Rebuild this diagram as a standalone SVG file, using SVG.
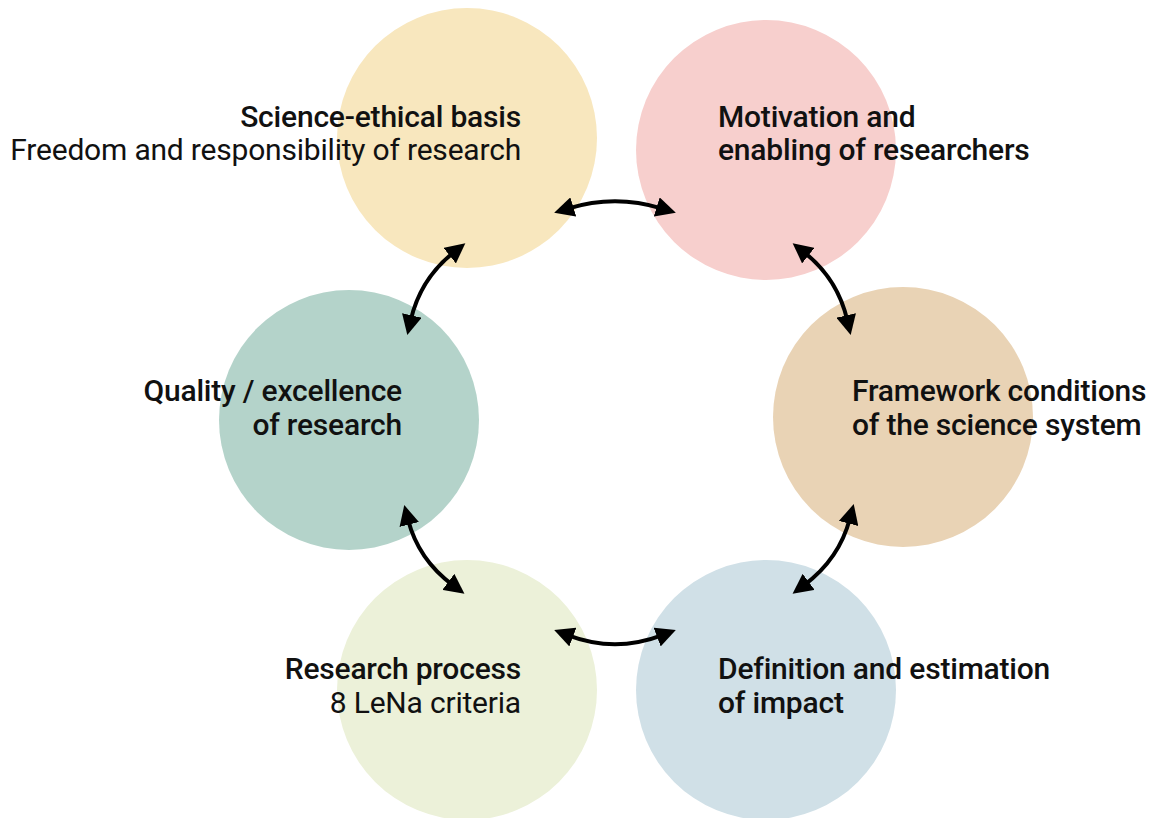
<svg xmlns="http://www.w3.org/2000/svg" width="1152" height="818" viewBox="0 0 1152 818">
<defs>
<style>
text{font-family:Roboto,"Noto Sans",sans-serif;font-size:30px;fill:#111;letter-spacing:-0.2px}
.b{font-weight:500}
.r{font-weight:400}
.e{text-anchor:end}
.c{fill:none;stroke:#000;stroke-width:4;marker-start:url(#ah);marker-end:url(#ah)}
</style>
<marker id="ah" markerUnits="userSpaceOnUse" markerWidth="20" markerHeight="20" viewBox="0 0 16 16" refX="4" refY="8" orient="auto-start-reverse">
<path d="M0,0 L16,8 L0,16 z" fill="#000"/>
</marker>
</defs>
<rect width="1152" height="818" fill="#fff"/>
<g id="node-ethics"><circle cx="467" cy="138" r="130" fill="#F8E7BE"/></g>
<g id="node-motivation"><circle cx="766" cy="150" r="130" fill="#F7CFCD"/></g>
<g id="node-framework"><circle cx="903" cy="417" r="130" fill="#E9D3B5"/></g>
<g id="node-impact"><circle cx="766" cy="690" r="130" fill="#D0E0E7"/></g>
<g id="node-process"><circle cx="467" cy="690" r="130" fill="#ECF1D9"/></g>
<g id="node-quality"><circle cx="349" cy="420" r="130" fill="#B4D3CA"/></g>
<g id="connectors">
<path class="c" d="M568.5,208.4 Q615,194 661.5,208.4"/>
<path class="c" d="M453.6,252.5 Q420.3,278.9 410.7,320.3"/>
<path class="c" d="M804.4,252.5 Q837.7,278.9 847.3,320.3"/>
<path class="c" d="M849.9,518.6 Q839.2,559.1 804.6,584.8"/>
<path class="c" d="M408,519.6 Q418.3,559.6 452.4,584.8"/>
<path class="c" d="M568.2,635.3 Q615,653 661.8,635.3"/>
</g>
<g id="labels">
<text class="b e" x="521" y="127">Science-ethical basis</text>
<text class="r e" x="521" y="160">Freedom and responsibility of research</text>
<text class="b" x="718" y="127">Motivation and</text>
<text class="b" x="718" y="160">enabling of researchers</text>
<text class="b e" x="402" y="401">Quality / excellence</text>
<text class="b e" x="402" y="435">of research</text>
<text class="b" x="852" y="401">Framework conditions</text>
<text class="b" x="852" y="435">of the science system</text>
<text class="b e" x="521" y="679">Research process</text>
<text class="r e" x="521" y="713">8 LeNa criteria</text>
<text class="b" x="718" y="679">Definition and estimation</text>
<text class="b" x="718" y="713">of impact</text>
</g>
</svg>
